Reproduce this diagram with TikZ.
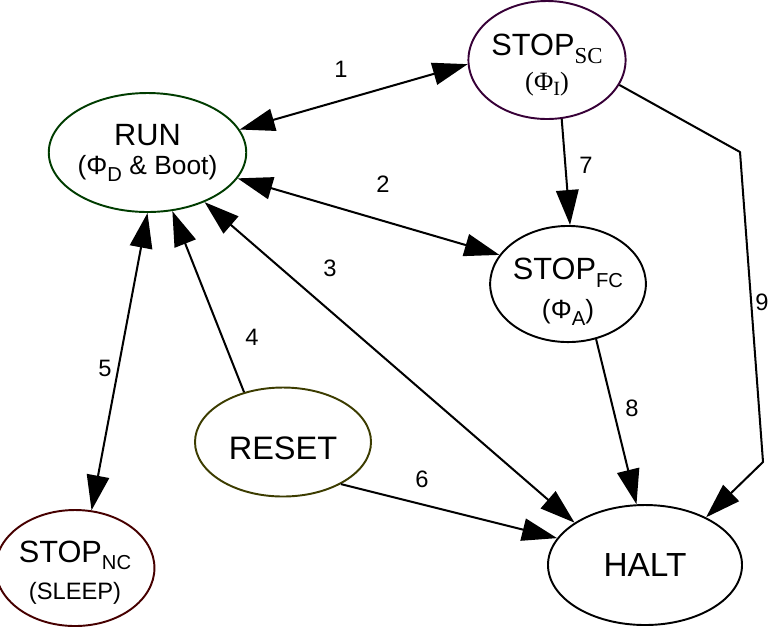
\documentclass[tikz,border=0pt]{standalone}
\usepackage{fontspec}
\setmainfont{Liberation Sans}
\newfontfamily\timesfam{Liberation Serif}
\usetikzlibrary{shapes.geometric,arrows.meta}

\definecolor{rungreen}{RGB}{0,60,0}
\definecolor{scpurple}{RGB}{55,0,55}
\definecolor{ncred}{RGB}{70,0,0}
\definecolor{resetolive}{RGB}{60,60,0}

% lowered subscript in text mode
\newcommand{\lowsub}[2][11.5]{\raisebox{-0.45ex}{\fontsize{#1}{#1}\selectfont #2}}

\begin{document}
\begin{tikzpicture}[x=0.2mm,y=-0.2mm,line join=round,
	>={Triangle[length=7mm,width=4.5mm]},
	state/.style={draw,ellipse,line width=1.1pt,inner sep=0pt,align=center},
	link/.style={line width=1.15pt},
	lbl/.style={font=\fontsize{13.5}{16}\selectfont}]
	\useasboundingbox (0,0) rectangle (768,628);
	% states
	\node[state,draw=rungreen,minimum width=35.6mm,minimum height=23.8mm] (run) at (147.5,152.5)
		{{\fontsize{17.5}{20}\selectfont RUN}\\[5pt]{\fontsize{15}{17}\selectfont (Φ\lowsub{D} \& Boot)}};
	\node[state,draw=scpurple,minimum width=29.2mm,minimum height=23.6mm] (stopsc) at (547,60)
		{{\fontsize{17.5}{20}\selectfont\rule{0pt}{18pt}STOP\lowsub[13]{\timesfam SC}}\\[4pt]{\timesfam\fontsize{15}{17}\selectfont (Φ\lowsub[11.5]{I})}};
	\node[state,minimum width=25.2mm,minimum height=22.8mm] (stopfc) at (568,284)
		{{\fontsize{17.5}{20}\selectfont\rule{0pt}{21pt}STOP\lowsub{FC}}\\[6pt]{\fontsize{15}{17}\selectfont (Φ\lowsub{A})}};
	\node[state,draw=ncred,minimum width=30mm,minimum height=23.2mm] (stopnc) at (75,568)
		{{\fontsize{17.5}{20}\selectfont\rule{0pt}{17pt}STOP\lowsub{NC}}\\[6pt]{\fontsize{13.5}{16}\selectfont (SLEEP)}};
	\node[state,draw=resetolive,minimum width=35.2mm,minimum height=21.8mm,text height=20pt,font=\fontsize{18.5}{20}\selectfont] (reset) at (283,442) {RESET};
	\node[state,minimum width=38.8mm,minimum height=24mm,font=\fontsize{19}{20}\selectfont] (halt) at (645,565) {HALT};
	% bends of the long edge
	\coordinate (bendA) at (740,152);
	\coordinate (bendB) at (763,462);
	% transitions
	\draw[link,<->] (run.14) -- (stopsc.183);
	\draw[link,<->] (run.-16) -- (stopfc.157);
	\draw[link,<->] (run.-41) -- (halt.149);
	\draw[link,->] (reset.128) -- (run.-67);
	\draw[link,<->] (run.south) -- (stopnc.74);
	\draw[link,->] (reset.-36) -- (halt.163);
	\draw[link,->] (stopsc.-76) -- (stopfc.88);
	\draw[link,->] (stopfc.-63) -- (halt.98);
	\draw[link,->] (stopsc.-19) -- (bendA) -- (bendB) -- (halt.38);
	% transition numbers
	\foreach \n/\x/\y in {1/341/69,2/383/184,3/330/268,4/252/337,5/105/368,6/422/479,7/586/165,8/632/408,9/762/302}
		\node[lbl] (num\n) at (\x,\y) {\n};
\end{tikzpicture}
\end{document}
